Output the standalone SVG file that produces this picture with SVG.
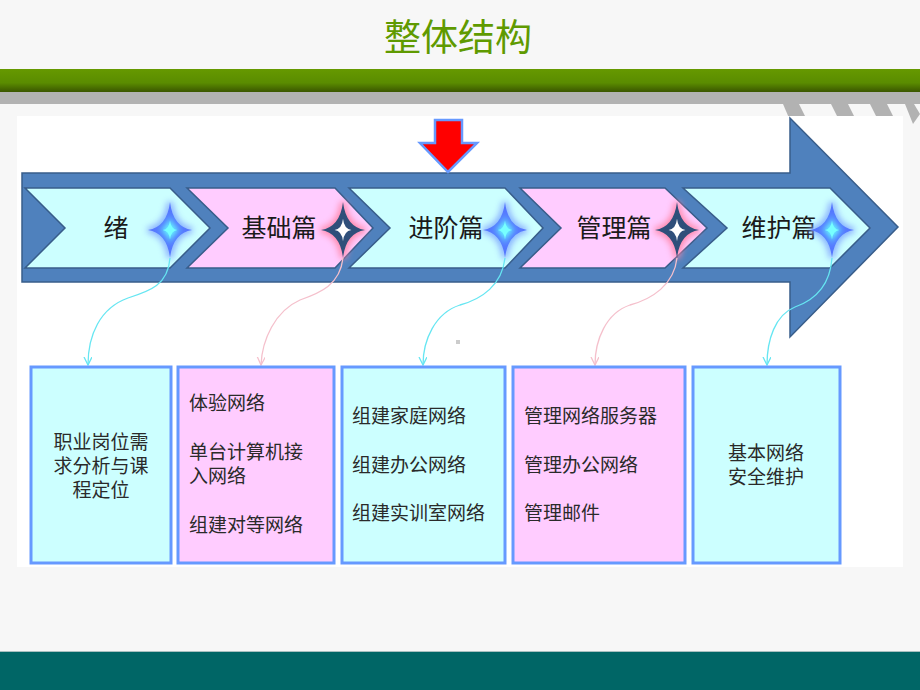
<svg xmlns="http://www.w3.org/2000/svg" width="920" height="690" viewBox="0 0 920 690">
<style>
text{font-family:"Noto Sans CJK SC","Noto Sans",sans-serif;}
.chev{stroke:#385d8a;stroke-width:1.5;}
.cy{fill:#ccffff;}
.pk{fill:#ffccff;}
.lbl{font-size:25px;fill:#1a1a1a;text-anchor:middle;}
.box{stroke:#6699ff;stroke-width:3;}
.bt{font-size:19px;fill:#2a2a2a;}
.btc{font-size:19px;fill:#2a2a2a;text-anchor:middle;}
.conC{fill:none;stroke:#66e6f2;stroke-width:1.3;}
.conP{fill:none;stroke:#f5c0cc;stroke-width:1.3;}
</style>
<defs>
<linearGradient id="gbar" x1="0" y1="0" x2="0" y2="1">
<stop offset="0" stop-color="#669900"/>
<stop offset="0.6" stop-color="#5a8c00"/>
<stop offset="1" stop-color="#3b5600"/>
</linearGradient>
<filter id="blur" x="-50%" y="-50%" width="200%" height="200%"><feGaussianBlur stdDeviation="3"/></filter>
<path id="star" d="M0,-28 Q3,-3 22,0 Q3,3 0,28 Q-3,3 -22,0 Q-3,-3 0,-28 Z"/>
<path id="starIn" d="M0,-16 Q1.5,-1.5 12,0 Q1.5,1.5 0,16 Q-1.5,1.5 -12,0 Q-1.5,-1.5 0,-16 Z"/>
<marker id="arC" markerWidth="10" markerHeight="10" refX="8" refY="4" orient="auto" markerUnits="userSpaceOnUse"><path d="M0,0 L8,4 L0,8" fill="none" stroke="#66e6f2" stroke-width="1.3"/></marker>
<marker id="arP" markerWidth="10" markerHeight="10" refX="8" refY="4" orient="auto" markerUnits="userSpaceOnUse"><path d="M0,0 L8,4 L0,8" fill="none" stroke="#f5c0cc" stroke-width="1.3"/></marker>
</defs>
<rect width="920" height="690" fill="#f7f7f7"/>
<g id="header">
<text x="458" y="51" font-size="37" fill="#5f9a00" text-anchor="middle">整体结构</text>
<rect x="0" y="69" width="920" height="23" fill="url(#gbar)"/>
<rect x="0" y="92" width="920" height="12" fill="#b2b2b2"/>
<polygon points="783,104 799,104 806,118 789,118" fill="#b2b2b2"/>
<polygon points="831,104 848,104 855,118 838,118" fill="#b2b2b2"/>
<polygon points="870,104 887,104 894,118 877,118" fill="#b2b2b2"/>
<polygon points="905,104 914,104 920,114 913,124" fill="#b2b2b2"/>
</g>
<rect x="17" y="116" width="886" height="451" fill="#ffffff"/>
<g id="bigArrow">
<polygon points="22,173 790,173 790,118 898,227 790,337 790,282 22,282" fill="#4f81bd" stroke="#385d8a" stroke-width="1.5"/>
</g>
<g id="redArrow">
<polygon points="435,120 462,120 462,143 477,143 448,172 420,143 435,143" fill="#ff0000" stroke="#6699ff" stroke-width="2.5" stroke-linejoin="miter"/>
</g>
<g id="chev1">
<polygon class="chev cy" points="25,188 170,188 210,228 170,268 25,268 65,228"/>
<text class="lbl" x="116" y="237">绪</text>
</g>
<g id="chev2">
<polygon class="chev pk" points="187,188 335,188 373,228 335,268 187,268 228,228"/>
<text class="lbl" x="279" y="237">基础篇</text>
</g>
<g id="chev3">
<polygon class="chev cy" points="349,188 505,188 543,228 505,268 349,268 390,228"/>
<text class="lbl" x="446" y="237">进阶篇</text>
</g>
<g id="chev4">
<polygon class="chev pk" points="520,188 665,188 707,228 665,268 520,268 561,228"/>
<text class="lbl" x="614" y="237">管理篇</text>
</g>
<g id="chev5">
<polygon class="chev cy" points="683,188 830,188 870,228 830,268 683,268 727,228"/>
<text class="lbl" x="779" y="237">维护篇</text>
</g>
<g id="stars">
<g transform="translate(170,230)">
<use href="#star" fill="#6699ff" stroke="#88aaff" stroke-width="6" filter="url(#blur)" opacity="0.9"/>
<use href="#star" fill="#5577ff"/>
<use href="#starIn" fill="#66ffff" filter="url(#blur)"/>
<use href="#starIn" fill="#7ff" transform="scale(0.6)"/>
</g>
<g transform="translate(343,230)">
<use href="#star" fill="#ff6688" stroke="#ff88aa" stroke-width="6" filter="url(#blur)" opacity="0.9"/>
<use href="#star" fill="#2f4f7a"/>
<use href="#starIn" fill="#ffffff" transform="scale(0.7)"/>
</g>
<g transform="translate(505,230)">
<use href="#star" fill="#6699ff" stroke="#88aaff" stroke-width="6" filter="url(#blur)" opacity="0.9"/>
<use href="#star" fill="#5577ff"/>
<use href="#starIn" fill="#66ffff" filter="url(#blur)"/>
<use href="#starIn" fill="#7ff" transform="scale(0.6)"/>
</g>
<g transform="translate(677,230)">
<use href="#star" fill="#ff6688" stroke="#ff88aa" stroke-width="6" filter="url(#blur)" opacity="0.9"/>
<use href="#star" fill="#2f4f7a"/>
<use href="#starIn" fill="#ffffff" transform="scale(0.7)"/>
</g>
<g transform="translate(832,230)">
<use href="#star" fill="#6699ff" stroke="#88aaff" stroke-width="6" filter="url(#blur)" opacity="0.9"/>
<use href="#star" fill="#5577ff"/>
<use href="#starIn" fill="#66ffff" filter="url(#blur)"/>
<use href="#starIn" fill="#7ff" transform="scale(0.6)"/>
</g>
</g>
<g id="connectors">
<path class="conC" marker-end="url(#arC)" d="M170,258 C168,285 150,291 128,298 C100,308 88,335 88,365"/>
<path class="conP" marker-end="url(#arP)" d="M343,258 C340,285 320,293 300,300 C275,311 262,340 261,365"/>
<path class="conC" marker-end="url(#arC)" d="M505,258 C502,285 482,299 460,305 C435,313 423,340 423,365"/>
<path class="conP" marker-end="url(#arP)" d="M677,258 C674,285 652,299 630,305 C606,313 595,340 595,365"/>
<path class="conC" marker-end="url(#arC)" d="M832,258 C830,285 815,300 795,307 C775,315 767,340 767,365"/>
</g>
<rect x="456" y="340" width="4" height="4" fill="#cccccc"/>
<g id="box1">
<rect class="box cy" x="31" y="367" width="140" height="196"/>
<text class="btc" x="101" y="449">职业岗位需<tspan x="101" dy="24">求分析与课</tspan><tspan x="101" dy="24">程定位</tspan></text>
</g>
<g id="box2">
<rect class="box pk" x="178" y="367" width="156" height="196"/>
<text class="bt" x="189" y="410">体验网络</text>
<text class="bt" x="189" y="459">单台计算机接<tspan x="189" dy="24">入网络</tspan></text>
<text class="bt" x="189" y="532">组建对等网络</text>
</g>
<g id="box3">
<rect class="box cy" x="342" y="367" width="163" height="196"/>
<text class="bt" x="352" y="423">组建家庭网络</text>
<text class="bt" x="352" y="472">组建办公网络</text>
<text class="bt" x="352" y="520">组建实训室网络</text>
</g>
<g id="box4">
<rect class="box pk" x="513" y="367" width="172" height="196"/>
<text class="bt" x="524" y="423">管理网络服务器</text>
<text class="bt" x="524" y="472">管理办公网络</text>
<text class="bt" x="524" y="520">管理邮件</text>
</g>
<g id="box5">
<rect class="box cy" x="693" y="367" width="147" height="196"/>
<text class="btc" x="766" y="460">基本网络<tspan x="766" dy="24">安全维护</tspan></text>
</g>
<g id="footer">
<rect x="0" y="651" width="920" height="1" fill="#a8c0c0"/>
<rect x="0" y="652" width="920" height="38" fill="#006666"/>
</g>
</svg>
